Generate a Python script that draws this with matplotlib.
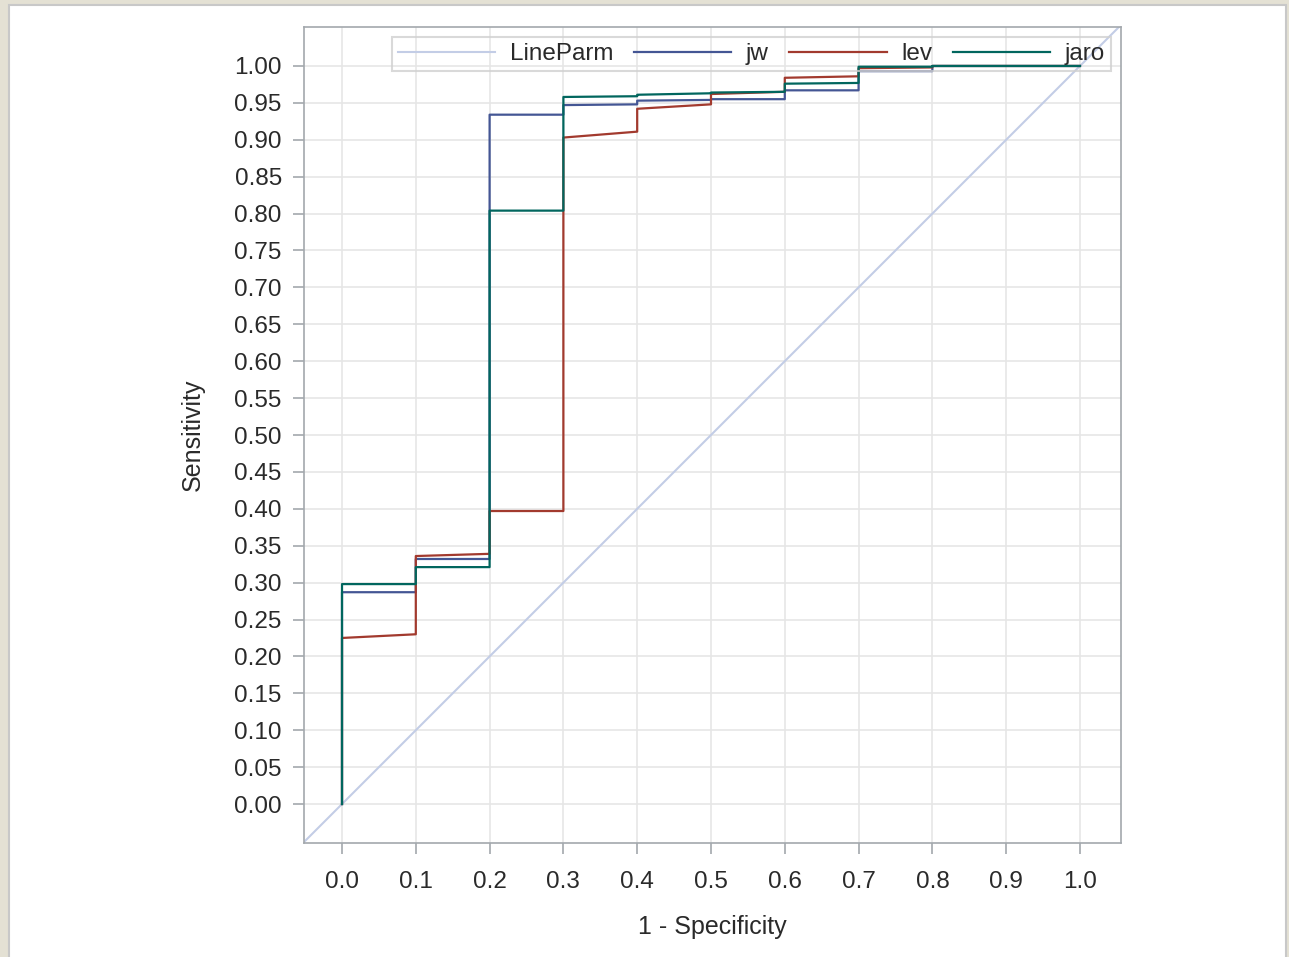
import numpy as np
import matplotlib
matplotlib.use("Agg")
import matplotlib.pyplot as plt
from matplotlib.patches import Rectangle

plt.rcParams['font.family'] = ['Liberation Sans', 'DejaVu Sans']

# ROC points (1 - specificity, sensitivity)
fpr = [0.0, 0.0, 0.1, 0.1, 0.2, 0.2, 0.3, 0.3, 0.4, 0.4,
       0.5, 0.5, 0.6, 0.6, 0.7, 0.7, 0.8, 0.8, 1.0]
jw = [0.0, 0.287, 0.287, 0.332, 0.332, 0.934, 0.934, 0.947, 0.948, 0.953,
      0.954, 0.955, 0.955, 0.967, 0.967, 0.993, 0.993, 1.0, 1.0]
lev = [0.0, 0.225, 0.230, 0.336, 0.339, 0.397, 0.397, 0.903, 0.911, 0.942,
       0.948, 0.962, 0.965, 0.984, 0.986, 0.997, 0.998, 1.0, 1.0]
jaro = [0.0, 0.298, 0.298, 0.321, 0.321, 0.804, 0.804, 0.958, 0.959, 0.961,
        0.963, 0.964, 0.965, 0.976, 0.977, 0.999, 0.999, 1.0, 1.0]

xticks = np.round(np.arange(0, 1.01, 0.1), 2)
yticks = np.round(np.arange(0, 1.001, 0.05), 2)

W, H = 1289, 957
FS = 17.5
fig = plt.figure(figsize=(W / 100, H / 100), dpi=100, facecolor='#e4e1d4')
fig.patches.append(Rectangle((9 / W, -0.01), (1286 - 9) / W, (H - 5) / H + 0.01,
                             transform=fig.transFigure, facecolor='white',
                             edgecolor='#c8c8c8', linewidth=1.5, zorder=-10))

ax = fig.add_axes([304 / W, (H - 843) / H, (1121 - 304) / W, (843 - 27) / H])
ax.set_facecolor('white')

xlim = (-0.0515, 1.0556)
ylim = (-0.0528, 1.0528)
ax.plot(xlim, xlim, color='#c3cde6', lw=1.5, label='LineParm', zorder=2)
ax.plot(fpr, jw, color='#445694', lw=1.6, label='jw', zorder=3)
ax.plot(fpr, lev, color='#a23a2e', lw=1.6, label='lev', zorder=3)
ax.plot(fpr, jaro, color='#01665e', lw=1.6, label='jaro', zorder=3)

ax.set_xlim(xlim)
ax.set_ylim(ylim)
ax.set_xticks(xticks)
ax.set_xticklabels([f'{v:.1f}' for v in xticks])
ax.set_yticks(yticks)
ax.set_yticklabels([f'{v:.2f}' for v in yticks])
ax.grid(True, color='#e6e6e6', lw=1.2, zorder=0)
ax.set_axisbelow(True)

for s in ax.spines.values():
    s.set_color('#a3a8ad')
    s.set_linewidth(1.2)
ax.tick_params(colors='#a3a8ad', labelcolor='#2a2a2a', labelsize=FS,
               length=8, width=1.2)
ax.tick_params(axis='x', pad=12)
ax.tick_params(axis='y', pad=8)

ax.set_xlabel('1 - Specificity', fontsize=FS + 0.5, color='#2a2a2a', labelpad=16)
ax.set_ylabel('Sensitivity', fontsize=FS + 0.5, color='#2a2a2a', labelpad=21)

leg = ax.legend(loc='upper right', bbox_to_anchor=(0.9878, 0.9877), ncol=4,
                fontsize=FS, frameon=True, fancybox=False, borderaxespad=0,
                handlelength=4.0, handletextpad=0.6, columnspacing=0.85,
                borderpad=0.25)
leg.get_frame().set_facecolor('none')
leg.get_frame().set_edgecolor('#d0d0d0')
leg.get_frame().set_linewidth(1.5)
for t in leg.get_texts():
    t.set_color('#2a2a2a')

fig.savefig('out.png', dpi=100, facecolor=fig.get_facecolor())
